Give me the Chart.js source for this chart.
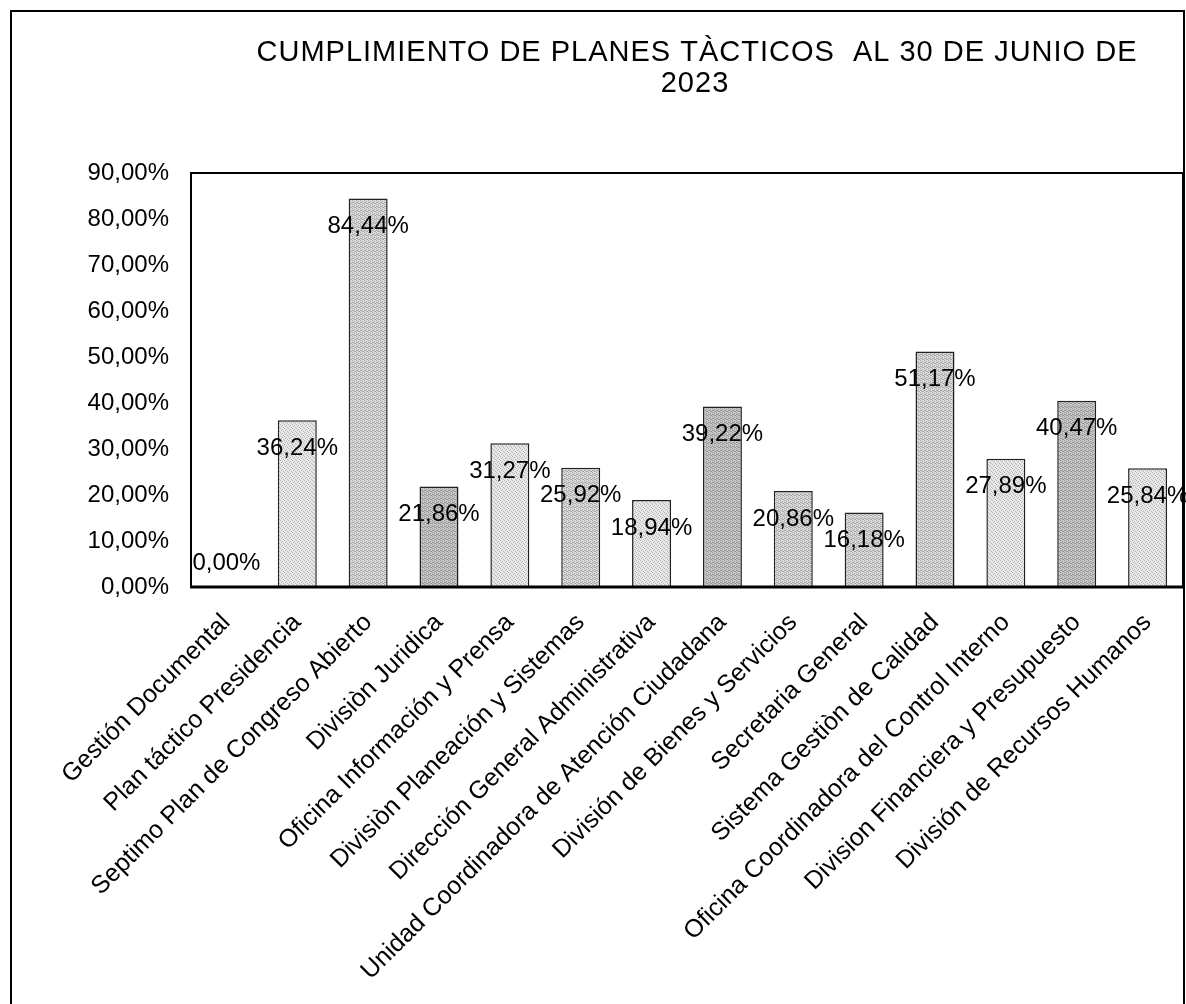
<!DOCTYPE html>
<html>
<head>
<meta charset="utf-8">
<script src="https://cdn.jsdelivr.net/npm/chart.js@4"></script>
<style>
  html, body { margin: 0; padding: 0; background: #fff; }
  #wrap { width: 1186px; height: 1004px; position: relative; }
</style>
</head>
<body>
<div id="wrap"><canvas id="planesChart"></canvas></div>
<script>
const categories = [
  "Gestión Documental",
  "Plan táctico Presidencia",
  "Septimo Plan de Congreso Abierto",
  "Divisiòn Juridica",
  "Oficina Información y Prensa",
  "Divisiòn Planeación y Sistemas",
  "Dirección General Administrativa",
  "Unidad Coordinadora de Atención Ciudadana",
  "División de Bienes y Servicios",
  "Secretaria General",
  "Sistema Gestiòn de Calidad",
  "Oficina Coordinadora del Control Interno",
  "Division Financiera y Presupuesto",
  "División de Recursos Humanos"
]
const cumplimiento = [0.00, 36.24, 84.44, 21.86, 31.27, 25.92, 18.94, 39.22, 20.86, 16.18, 51.17, 27.89, 40.47, 25.84]
const yTicks = [0, 10, 20, 30, 40, 50, 60, 70, 80, 90]
const titleLines = ["CUMPLIMIENTO DE PLANES TÀCTICOS  AL 30 DE JUNIO DE", "2023"]

// shade of the scanned stipple per bar (1 = light, 2 = medium, 3 = dark)
const shades = [1, 1, 2, 3, 1, 2, 1, 3, 2, 2, 2, 1, 3, 1]

const fmt = v => v.toFixed(2).replace('.', ',') + '%'
const FONT = "'Liberation Sans', Arial, sans-serif"

function makePattern(shade) {
  const c = document.createElement('canvas')
  c.width = 4
  c.height = 4
  const g = c.getContext('2d')
  const base = { 1: '#e8e8e8', 2: '#dadada', 3: '#c8c8c8' }[shade]
  const dot = { 1: '#b4b4b4', 2: '#a6a6a6', 3: '#959595' }[shade]
  g.fillStyle = base
  g.fillRect(0, 0, 4, 4)
  g.fillStyle = dot
  g.fillRect(0, 0, 1, 1)
  g.fillRect(2, 1, 1, 1)
  g.fillRect(1, 2, 1, 1)
  g.fillRect(3, 3, 1, 1)
  if (shade > 1) {
    g.fillRect(2, 3, 1, 1)
    g.fillRect(0, 2, 1, 1)
  }
  return g.createPattern(c, 'repeat')
}

Chart.defaults.font.family = FONT
Chart.defaults.color = '#000'

const framePlugin = {
  id: 'frame',
  beforeDraw(chart) {
    const ctx = chart.ctx
    ctx.save()
    ctx.fillStyle = '#fff'
    ctx.fillRect(0, 0, chart.width, chart.height)
    ctx.strokeStyle = '#000'
    ctx.lineWidth = 2
    ctx.beginPath()
    ctx.moveTo(11, chart.height)
    ctx.lineTo(11, 11)
    ctx.lineTo(1184, 11)
    ctx.lineTo(1184, chart.height)
    ctx.stroke()

    // title, centred over the plot like the original
    ctx.fillStyle = '#000'
    ctx.font = '29px ' + FONT
    ctx.letterSpacing = '1px'
    ctx.textAlign = 'center'
    ctx.textBaseline = 'middle'
    ctx.fillText(titleLines[0], 697, 53)
    ctx.fillText(titleLines[1], 695, 84)
    ctx.restore()
  },
  afterDatasetsDraw(chart) {
    const a = chart.chartArea
    const ctx = chart.ctx
    ctx.save()
    ctx.strokeStyle = '#000'
    ctx.lineWidth = 2
    ctx.strokeRect(a.left, a.top, a.right - a.left, a.bottom - a.top)
    ctx.lineWidth = 3
    ctx.beginPath()
    ctx.moveTo(a.left - 1, a.bottom)
    ctx.lineTo(a.right + 1, a.bottom)
    ctx.stroke()

    // value labels, inside the top of each bar
    ctx.fillStyle = '#000'
    ctx.font = '24px ' + FONT
    ctx.textAlign = 'center'
    ctx.textBaseline = 'middle'
    const meta = chart.getDatasetMeta(0)
    meta.data.forEach((bar, i) => {
      const v = cumplimiento[i]
      const y = v === 0 ? bar.base - 24 : bar.y + 28
      ctx.fillText(fmt(v), bar.x, y)
    })
    ctx.restore()
  }
}

const ctx = document.getElementById('planesChart').getContext('2d')
new Chart(ctx, {
  type: 'bar',
  data: {
    labels: categories,
    datasets: [{
      data: cumplimiento,
      backgroundColor: shades.map(makePattern),
      borderColor: '#222',
      borderWidth: 1.5,
      borderSkipped: 'bottom',
      barPercentage: 0.55,
      categoryPercentage: 1
    }]
  },
  options: {
    responsive: true,
    maintainAspectRatio: false,
    animation: false,
    layout: { padding: { left: 0, right: 3, top: 173, bottom: 0 } },
    plugins: {
      legend: { display: false },
      tooltip: { enabled: false },
      title: { display: false }
    },
    scales: {
      x: {
        grid: { display: false, drawTicks: false },
        border: { display: false },
        ticks: {
          autoSkip: false,
          maxRotation: 45,
          minRotation: 45,
          padding: 21,
          font: { size: 25 }
        },
        afterFit(scale) {
          scale.height = 417
          scale.paddingRight = 0
        }
      },
      y: {
        min: 0,
        max: 90,
        afterBuildTicks(scale) { scale.ticks = yTicks.map(v => ({ value: v })) },
        grid: { display: false, drawTicks: false },
        border: { display: false },
        ticks: {
          padding: 22,
          font: { size: 24 },
          callback: v => fmt(v)
        },
        afterFit(scale) {
          scale.width = 191
          scale.paddingTop = 0
        }
      }
    }
  },
  plugins: [framePlugin]
})
</script>
</body>
</html>
